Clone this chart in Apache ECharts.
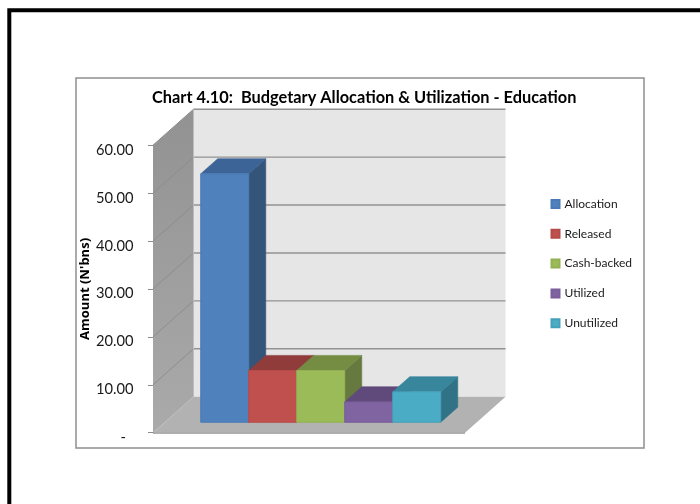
<!DOCTYPE html>
<html>
<head>
<meta charset="utf-8">
<style>html,body{margin:0;padding:0;background:#fff}#c{width:700px;height:504px}</style>
<script src="https://cdn.jsdelivr.net/npm/echarts@6/dist/echarts.min.js"></script>
</head>
<body>
<div id="c"></div>
<script>
const titleText = "Chart 4.10:  Budgetary Allocation & Utilization - Education";
const axisName = "Amount (N'bns)";
const categories = ["Education"];
const seriesNames = ["Allocation", "Released", "Cash-backed", "Utilized", "Unutilized"];
const allocation = [51.85];
const released = [10.8];
const cashBacked = [10.8];
const utilized = [4.25];
const unutilized = [6.35];
const yTicks = [0, 10, 20, 30, 40, 50, 60];
const seriesValues = [allocation, released, cashBacked, utilized, unutilized];
const frontColors = ["#4f81bd", "#c0504d", "#9bbb59", "#8064a2", "#4bacc6"];
const topColors = ["#3d6496", "#8f3c3a", "#748d43", "#604a7b", "#37869c"];
const sideColors = ["#345479", "#7d3432", "#66793e", "#533f6b", "#317386"];
const edgeColors = ["#4a7ab5", "#b54b48", "#93b153", "#795e99", "#45a0b9"];

const DX = 40.5, DY = -36;        // depth of the 3D box
const barFront = 0.29, barBack = 0.71;
const barSlots = 6.5, barGap = 0.75;

const chart = echarts.init(document.getElementById('c'), null, {renderer: 'canvas'});

function poly(points, fill, stroke, lw) {
  return {type: 'polygon', shape: {points}, silent: true,
    style: {fill, stroke: stroke || fill, lineWidth: lw === undefined ? 0.6 : lw}};
}
function line(a, b, color, w) {
  return {type: 'line', shape: {x1: a[0], y1: a[1], x2: b[0], y2: b[1]}, silent: true,
    style: {stroke: color, lineWidth: w, fill: null}};
}

function renderWalls(params, api) {
  const band = api.size([1, 0])[0];
  const p0 = api.coord([0, yTicks[0]]);
  const p1 = api.coord([0, yTicks[yTicks.length - 1]]);
  const xl = p0[0] - band / 2, xr = p0[0] + band / 2;
  const yb = p0[1], yt = p1[1];
  const kids = [];
  kids.push(poly([[xl + DX, yt + DY], [xr + DX, yt + DY], [xr + DX, yb + DY], [xl + DX, yb + DY]], '#e6e6e6', '#e6e6e6', 0));
  kids.push(poly([[xl, yt], [xl + DX, yt + DY], [xl + DX, yb + DY], [xl, yb]], {
    type: 'linear', x: 0, y: 0, x2: 0, y2: 1,
    colorStops: [{offset: 0, color: '#929292'}, {offset: 1, color: '#aaaaaa'}]
  }, '#a0a0a0', 0));
  kids.push(poly([[xl, yb], [xl + DX, yb + DY], [xr + DX, yb + DY], [xr, yb]], '#b2b2b2', '#b2b2b2', 0));
  yTicks.forEach(t => {
    const y = api.coord([0, t])[1];
    if (t > 0) {
      kids.push(line([xl, y], [xl + DX, y + DY], '#8d8d8d', 1));
      kids.push(line([xl + DX, y + DY], [xr + DX, y + DY], '#929292', 1.4));
    }
  });
  kids.push(line([xl + DX, yb + DY], [xl + DX, yt + DY], '#bdbdbd', 1));
  kids.push(line([xl, yb + 0.4], [xr, yb + 0.4], '#969696', 1.4));
  return {type: 'group', children: kids};
}

function makeBarRenderer(i) {
  return function (params, api) {
    const band = api.size([1, 0])[0];
    const w = band / barSlots;
    const c = api.coord([api.value(0), 0]);
    const t = api.coord([api.value(0), api.value(1)]);
    const xl = c[0] - band / 2 + (barGap + i) * w + DX * barFront;
    const xr = xl + w;
    const yb = c[1] + DY * barFront;
    const yt = t[1] + DY * barFront;
    const ox = DX * (barBack - barFront), oy = DY * (barBack - barFront);
    return {type: 'group', children: [
      poly([[xr, yt], [xr + ox, yt + oy], [xr + ox, yb + oy], [xr, yb]], sideColors[i]),
      poly([[xl, yt], [xl + ox, yt + oy], [xr + ox, yt + oy], [xr, yt]], topColors[i]),
      poly([[xl, yt], [xr, yt], [xr, yb], [xl, yb]], frontColors[i], edgeColors[i], 1)
    ]};
  };
}

const barSeries = seriesNames.map((name, i) => ({
  name,
  type: 'custom',
  coordinateSystem: 'cartesian2d',
  clip: false,
  z: 3,
  itemStyle: {color: frontColors[i], borderColor: edgeColors[i], borderWidth: 1},
  renderItem: makeBarRenderer(i),
  encode: {x: 0, y: 1},
  data: seriesValues[i].map((v, k) => [k, v])
}));

chart.setOption({
  animation: false,
  backgroundColor: '#ffffff',
  title: {
    text: titleText,
    left: 152, top: 87.5,
    padding: 0,
    textStyle: {fontFamily: 'Lato', fontWeight: 'bold', fontSize: 16.35, color: '#000000', lineHeight: 20}
  },
  legend: {
    data: seriesNames,
    orient: 'vertical',
    left: 550.5, top: 197,
    padding: 0,
    itemWidth: 8, itemHeight: 8,
    itemGap: 15.8,
    icon: 'rect',
    selectedMode: false,
    textStyle: {fontFamily: 'Lato', fontSize: 12, color: '#1a1a1a', lineHeight: 14}
  },
  grid: {left: 153, top: 145.2, width: 312, height: 287.5, containLabel: false},
  xAxis: {
    type: 'category', data: categories,
    axisLine: {show: false}, axisTick: {show: false}, axisLabel: {show: false}, splitLine: {show: false}
  },
  yAxis: {
    type: 'value', min: 0, max: 60, interval: 10,
    name: axisName, nameLocation: 'middle', nameGap: 57, nameRotate: 90,
    nameTextStyle: {fontFamily: 'Open Sans', fontWeight: 'bold', fontSize: 13, color: '#000000'},
    axisLine: {show: true, lineStyle: {color: '#8c8c8c', width: 1}},
    axisTick: {show: true, length: 5, lineStyle: {color: '#8c8c8c', width: 1}},
    axisLabel: {
      margin: 19.5,
      fontFamily: 'Lato', fontSize: 14.7, color: '#1a1a1a',
      verticalAlign: 'top', lineHeight: 9.5,
      formatter: v => v === 0 ? '-  ' : v.toFixed(2)
    },
    splitLine: {show: false}
  },
  graphic: [
    {type: 'rect', silent: true, shape: {x: 9.3, y: 10.3, width: 900, height: 800},
     style: {fill: 'none', stroke: '#000000', lineWidth: 4}},
    {type: 'rect', silent: true, shape: {x: 76, y: 78, width: 568, height: 370},
     style: {fill: 'none', stroke: '#8e8e8e', lineWidth: 1.5}}
  ],
  series: [{
    name: 'walls', type: 'custom', coordinateSystem: 'cartesian2d', clip: false, z: 1, silent: true,
    renderItem: renderWalls, encode: {x: 0, y: 1}, data: [[0, 0]]
  }].concat(barSeries)
});
</script>
</body>
</html>
